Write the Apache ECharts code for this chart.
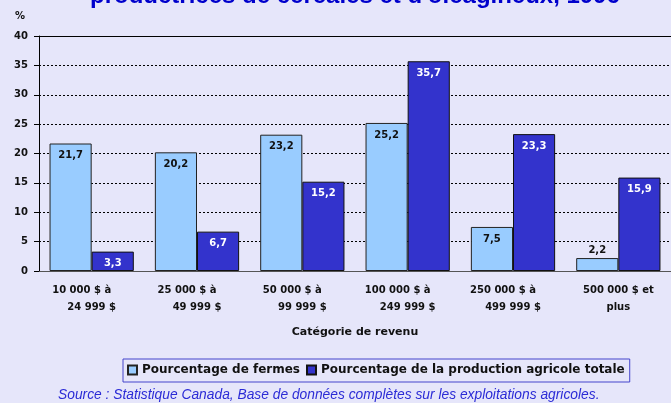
<!DOCTYPE html>
<html>
<head>
<meta charset="utf-8">
<script src="https://cdn.jsdelivr.net/npm/echarts@6/dist/echarts.min.js"></script>
<style>
    html, body { margin: 0; padding: 0; background: #e6e6fa; }
    #chart { width: 671px; height: 403px; }
</style>
</head>
<body>
<div id="chart"></div>
<script>
// catégories de revenu
const categories = [
    '10 000 $ à\n24 999 $',
    '25 000 $ à\n49 999 $',
    '50 000 $ à\n99 999 $',
    '100 000 $ à\n249 999 $',
    '250 000 $ à\n499 999 $',
    '500 000 $ et\nplus'
];
const fermes = [21.7, 20.2, 23.2, 25.2, 7.5, 2.2];
const production = [3.3, 6.7, 15.2, 35.7, 23.3, 15.9];
const seriesNames = ['Pourcentage de fermes', 'Pourcentage de la production agricole totale'];

const boldFont = 'DejaVu Sans';
const fmt = v => String(v).replace('.', ',');

// petites barres : étiquette au-dessus
function withLabels(values) {
    return values.map(v => v < 3 ? { value: v, label: { position: 'top', distance: 3 } } : v);
}

var myChart = echarts.init(document.getElementById('chart'));
var option = {
    backgroundColor: '#e6e6fa',
    animation: false,
    title: {
        text: "productrices de céréales et d'oléagineux, 1996",
        left: 85,
        top: -21,
        textStyle: { color: '#0000cc', fontSize: 24, fontWeight: 'bold', fontFamily: 'Liberation Sans' }
    },
    grid: { left: 39, top: 36, right: 0, bottom: 132 },
    legend: {
        data: seriesNames,
        left: 123,
        top: 359,
        itemWidth: 9,
        itemHeight: 9,
        itemGap: 6,
        padding: [5, 5, 6, 4],
        borderColor: '#4444cc',
        borderWidth: 1,
        icon: 'rect',
        textStyle: { color: '#111', fontSize: 12, fontWeight: 'bold', fontFamily: boldFont }
    },
    xAxis: [
        {
            type: 'category',
            data: categories,
            name: 'Catégorie de revenu',
            nameLocation: 'middle',
            nameGap: 56,
            nameTextStyle: { color: '#111', fontSize: 11, fontWeight: 'bold', fontFamily: boldFont },
            axisLine: { lineStyle: { color: '#555', width: 1 } },
            axisTick: { show: false },
            axisLabel: {
                interval: 0,
                margin: 11,
                color: '#111',
                fontSize: 10,
                fontWeight: 'bold',
                fontFamily: boldFont,
                lineHeight: 17,
                formatter: function (value) {
                    let lines = value.split('\n');
                    return lines.map(l => /à$/.test(l) ? '{a|' + l + '}' : '{b|' + l + '}').join('\n');
                },
                rich: {
                    a: { padding: [0, 20, 0, 0], fontSize: 10, fontWeight: 'bold', fontFamily: boldFont, color: '#111', lineHeight: 17 },
                    b: { fontSize: 10, fontWeight: 'bold', fontFamily: boldFont, color: '#111', lineHeight: 17 }
                }
            }
        },
        {
            // bordure du haut du graphique
            type: 'category',
            data: categories,
            position: 'top',
            axisLine: { lineStyle: { color: '#000', width: 1 } },
            axisTick: { show: false },
            axisLabel: { show: false }
        }
    ],
    yAxis: {
        type: 'value',
        min: 0,
        max: 40,
        interval: 5,
        name: '%',
        nameLocation: 'end',
        nameGap: 15,
        nameTextStyle: { color: '#111', fontSize: 10, fontWeight: 'bold', fontFamily: boldFont, align: 'right', padding: [0, 14, 0, 0] },
        axisLine: { show: true, lineStyle: { color: '#000', width: 1 } },
        axisTick: { show: true, length: 5, lineStyle: { color: '#000' } },
        axisLabel: { margin: 11, color: '#111', fontSize: 10, fontWeight: 'bold', fontFamily: boldFont },
        splitLine: { lineStyle: { color: '#000', type: [2, 2], width: 1 } }
    },
    series: [
        {
            name: seriesNames[0],
            type: 'bar',
            data: withLabels(fermes),
            barCategoryGap: '20%',
            barGap: '0%',
            itemStyle: { color: '#99ccff', borderColor: '#222', borderWidth: 1 },
            label: {
                show: true, position: 'insideTop', distance: 7,
                color: '#111', fontSize: 10, fontWeight: 'bold', fontFamily: boldFont,
                formatter: p => fmt(p.value)
            }
        },
        {
            name: seriesNames[1],
            type: 'bar',
            data: withLabels(production),
            barCategoryGap: '20%',
            barGap: '0%',
            itemStyle: { color: '#3333cc', borderColor: '#111', borderWidth: 1 },
            label: {
                show: true, position: 'insideTop', distance: 7,
                color: '#fff', fontSize: 10, fontWeight: 'bold', fontFamily: boldFont,
                formatter: p => fmt(p.value)
            }
        }
    ],
    graphic: [
        {
            type: 'text',
            left: 58,
            top: 388,
            style: {
                text: 'Source : Statistique Canada, Base de données complètes sur les exploitations agricoles.',
                fill: '#2b2bd6',
                font: 'italic 13.8px "Liberation Sans"'
            }
        }
    ]
};
myChart.setOption(option);
window.addEventListener('resize', () => {
    myChart.resize()
})
</script>
</body>
</html>
